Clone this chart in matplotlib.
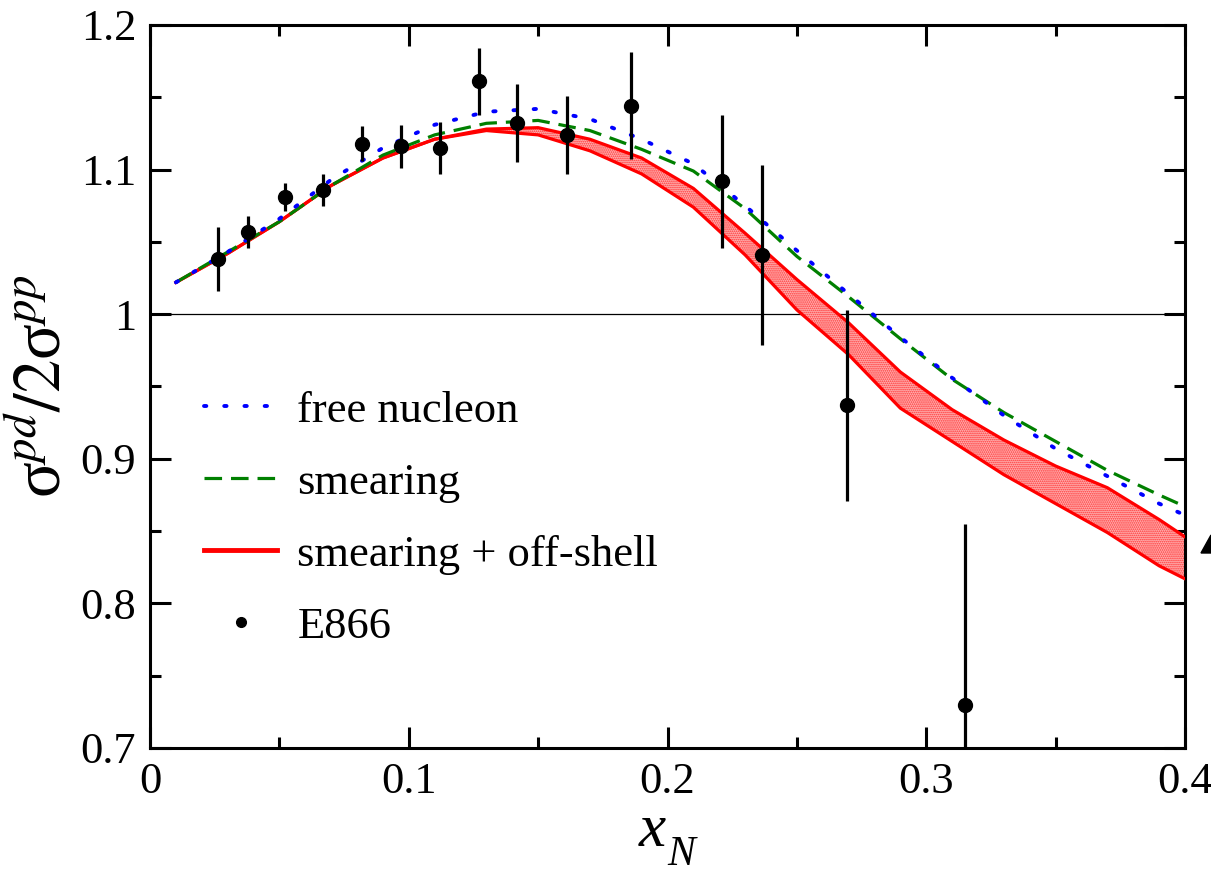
import matplotlib
matplotlib.use("Agg")
import matplotlib.pyplot as plt
from matplotlib.lines import Line2D
from matplotlib.patches import Polygon

plt.rcParams["font.family"] = ["Liberation Serif", "DejaVu Serif"]
plt.rcParams["mathtext.fontset"] = "stix"
plt.rcParams["hatch.linewidth"] = 0.8

# E866 data
x_data = [0.0263, 0.038, 0.052, 0.067, 0.082, 0.097, 0.112, 0.127,
          0.142, 0.161, 0.186, 0.221, 0.2365, 0.2694, 0.315]
y_data = [1.038, 1.0567, 1.081, 1.086, 1.118, 1.116, 1.115, 1.161,
          1.132, 1.124, 1.144, 1.092, 1.041, 0.937, 0.7296]
y_err = [0.022, 0.011, 0.0097, 0.011, 0.012, 0.015, 0.018, 0.023,
         0.027, 0.027, 0.037, 0.046, 0.062, 0.066, 0.125]

# model curves
x_curve = [0.01, 0.03, 0.05, 0.07, 0.09, 0.11, 0.13, 0.15, 0.17, 0.19, 0.21,
           0.23, 0.25, 0.27, 0.29, 0.31, 0.33, 0.35, 0.37, 0.39, 0.40]
free_nucleon = [1.022, 1.043, 1.066, 1.093, 1.115, 1.131, 1.140, 1.142, 1.135, 1.121, 1.104,
                1.075, 1.044, 1.014, 0.984, 0.956, 0.930, 0.907, 0.888, 0.869, 0.861]
smearing = [1.022, 1.043, 1.064, 1.089, 1.110, 1.124, 1.132, 1.134, 1.127, 1.114, 1.099,
            1.073, 1.040, 1.012, 0.983, 0.955, 0.932, 0.912, 0.892, 0.875, 0.867]
offshell_hi = [1.022, 1.042, 1.064, 1.089, 1.108, 1.121, 1.128, 1.129, 1.121, 1.108, 1.087,
               1.056, 1.024, 0.994, 0.960, 0.934, 0.913, 0.895, 0.880, 0.858, 0.846]
offshell_lo = [1.022, 1.042, 1.064, 1.089, 1.108, 1.121, 1.127, 1.124, 1.113, 1.097, 1.074,
               1.041, 1.003, 0.972, 0.935, 0.912, 0.889, 0.869, 0.849, 0.826, 0.817]

dot_style = (0, (0.6, 4.6))
dash_style = (0, (5.5, 2.8))

W, H = 1211, 874
fig = plt.figure(figsize=(W / 100, H / 100), dpi=100)
ax = fig.add_axes([0.1239, 0.1442, 0.8546, 0.8272])

ax.axhline(1.0, color="black", lw=0.9, zorder=1)

ax.fill_between(x_curve, offshell_lo, offshell_hi, facecolor="#ffb0b0",
                edgecolor="#ff3030", hatch="........", linewidth=0, zorder=2)
ax.plot(x_curve, offshell_hi, color="red", lw=2.3, zorder=3)
ax.plot(x_curve, offshell_lo, color="red", lw=2.3, zorder=3)
ax.plot(x_curve, smearing, color="green", lw=2.3, ls=dash_style, zorder=4)
ax.plot(x_curve, free_nucleon, color="blue", lw=2.8, ls=dot_style,
        dash_capstyle="round", zorder=5)

ax.errorbar(x_data, y_data, yerr=y_err, fmt="o", color="black", ms=10,
            elinewidth=2.3, capsize=0, zorder=6)

ax.set_xlim(0, 0.4)
ax.set_ylim(0.7, 1.2)
ax.set_xticks([0, 0.1, 0.2, 0.3, 0.4])
ax.set_xticklabels(["0", "0.1", "0.2", "0.3", "0.4"])
ax.set_xticks([0.05, 0.15, 0.25, 0.35], minor=True)
ax.set_yticks([0.7, 0.8, 0.9, 1.0, 1.1, 1.2])
ax.set_yticklabels(["0.7", "0.8", "0.9", "1", "1.1", "1.2"])
ax.set_yticks([0.75, 0.85, 0.95, 1.05, 1.15], minor=True)
ax.tick_params(which="both", direction="in", top=True, right=True,
               labelsize=32, width=2.2, pad=10)
ax.tick_params(which="major", length=15)
ax.tick_params(which="minor", length=8)
for s in ax.spines.values():
    s.set_linewidth(2.2)

ax.set_ylabel(r"$\mathregular{\sigma}^{pd}/2\mathregular{\sigma}^{pp}$", fontsize=48, labelpad=4)

# x label: italic x with a low, large N
fig.text(652 / W, 1 - 846 / H, "x", fontsize=44, style="italic",
         ha="center", va="baseline")
fig.text(667 / W, 1 - 865 / H, "N", fontsize=30, style="italic",
         ha="left", va="baseline")

handles = [
    Line2D([], [], color="blue", lw=2.8, ls=dot_style, dash_capstyle="round"),
    Line2D([], [], color="green", lw=2.3, ls=dash_style),
    Line2D([], [], color="red", lw=3.5),
    Line2D([], [], color="black", marker="o", ls="none", ms=7),
]
labels = ["free nucleon", "smearing", "smearing + off-shell", "E866"]
ax.legend(handles, labels, loc="upper left", bbox_to_anchor=(0.035, 0.519),
          frameon=False, fontsize=32, handlelength=1.65, handletextpad=0.45,
          labelspacing=0.72, borderaxespad=0)

# small arrowhead cut off at the right edge of the original figure
tri = [(1201 / W, 1 - 553 / H), (1211 / W, 1 - 535 / H), (1211 / W, 1 - 553 / H)]
fig.add_artist(Polygon(tri, closed=True, color="black", transform=fig.transFigure))

fig.savefig("out.png", dpi=100)
